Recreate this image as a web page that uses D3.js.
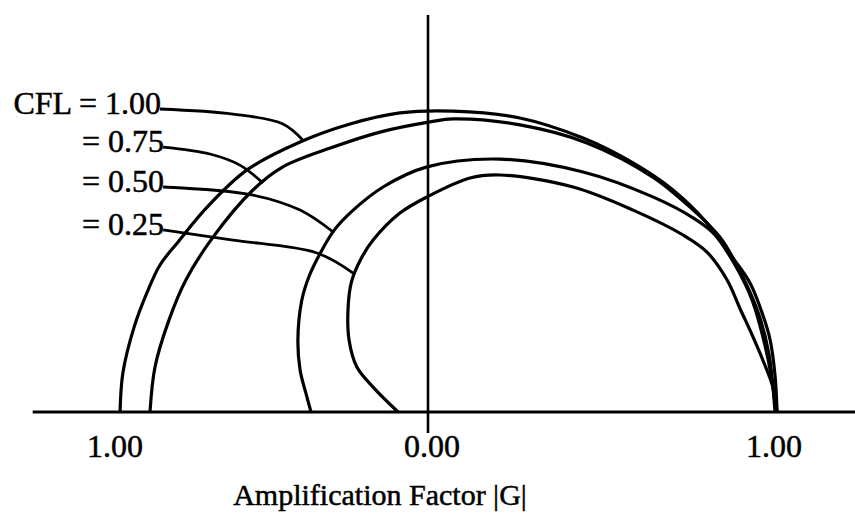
<!DOCTYPE html>
<html>
<head>
<meta charset="utf-8">
<script src="https://cdn.jsdelivr.net/npm/d3@7"></script>
<style>
  body { margin: 0; background: #fff; }
  svg text { font-family: "Liberation Serif", "Times New Roman", serif; fill: #000; stroke: #000; stroke-width: 0.5; }
</style>
</head>
<body>
<svg id="chart" width="855" height="514"></svg>
<script>
// |G| traced as (real, imag) pairs per CFL number
var cfls = ["1.00", "0.75", "0.50", "0.25"];
var labelText = ["CFL = 1.00", "= 0.75", "= 0.50", "= 0.25"];

var cfl100 = [[-0.987,0],[-0.978,0.130],[-0.942,0.283],[-0.901,0.397],[-0.859,0.490],[-0.801,0.567],
  [-0.708,0.683],[-0.580,0.807],[-0.410,0.900],[-0.250,0.960],[-0.090,0.997],[0.072,1.003],
  [0.265,0.980],[0.447,0.913],[0.591,0.830],[0.706,0.740],[0.804,0.630],[0.879,0.513],
  [0.928,0.430],[0.965,0.323],[0.986,0.240],[1.000,0.123],[1.006,0]];
var cfl075 = [[-0.891,0],[-0.875,0.150],[-0.830,0.307],[-0.776,0.440],[-0.689,0.583],[-0.561,0.740],
  [-0.465,0.817],[-0.304,0.883],[-0.154,0.933],[0.006,0.967],[0.072,0.977],[0.265,0.957],
  [0.458,0.897],[0.648,0.783],[0.755,0.683],[0.841,0.583],[0.902,0.463],[0.954,0.323],
  [0.983,0.190],[1.000,0]];
var cfl050 = [[-0.375,0],[-0.388,0.050],[-0.410,0.140],[-0.417,0.240],[-0.405,0.370],[-0.382,0.450],
  [-0.345,0.530],[-0.300,0.607],[-0.245,0.668],[-0.144,0.750],[-0.003,0.817],[0.207,0.843],
  [0.447,0.800],[0.648,0.717],[0.764,0.647],[0.825,0.593],[0.885,0.490],[0.934,0.373],
  [0.971,0.223],[0.991,0.107],[1.003,0]];
var cfl025 = [[-0.096,0],[-0.176,0.083],[-0.228,0.150],[-0.253,0.240],[-0.256,0.350],[-0.245,0.435],
  [-0.215,0.510],[-0.176,0.573],[-0.090,0.663],[-0.003,0.717],[0.121,0.780],
  [0.207,0.790],[0.418,0.750],[0.591,0.673],[0.735,0.590],[0.804,0.533],[0.862,0.440],
  [0.899,0.345],[0.934,0.257],[0.965,0.173],[0.994,0.083],[1.006,0]];

// leader lines from label to curve
var lead100 = [[-0.859,1.010],[-0.625,0.993],[-0.465,0.960],[-0.400,0.905]];
var lead075 = [[-0.849,0.883],[-0.699,0.860],[-0.603,0.823],[-0.529,0.763]];
var lead050 = [[-0.849,0.750],[-0.561,0.723],[-0.410,0.673],[-0.304,0.600]];
var lead025 = [[-0.849,0.607],[-0.625,0.573],[-0.356,0.530],[-0.240,0.463]];

var tickValues = [-1, 0, 1];
var tickLabels = ["1.00", "0.00", "1.00"];

var curves = [cfl100, cfl075, cfl050, cfl025];
var leaders = [lead100, lead075, lead050, lead025];

var svg = d3.select("#chart"),
	x = d3.scaleLinear().domain([-1, 0, 1]).range([116, 428, 775]),
	y = d3.scaleLinear().domain([0, 1]).range([412, 112]);

var line = d3.line()
	.x(function(d) { return x(d[0]); })
	.y(function(d) { return y(d[1]); })
	.curve(d3.curveCatmullRom.alpha(0.5));

// axes
svg.append("line")
	.attr("x1", x(-1.267)).attr("x2", x(1.24))
	.attr("y1", y(0)).attr("y2", y(0))
	.attr("stroke", "#000").attr("stroke-width", 3);
svg.append("line")
	.attr("x1", x(0)).attr("x2", x(0))
	.attr("y1", y(-0.07)).attr("y2", y(1.323))
	.attr("stroke", "#000").attr("stroke-width", 2.6);

svg.selectAll(".tick")
	.data(tickValues)
	.enter().append("text")
	.attr("class", "tick")
	.attr("x", function(d) { return x(d) + (d == 0 ? 4 : -1); })
	.attr("y", 457)
	.attr("text-anchor", "middle")
	.attr("font-size", 32)
	.text(function(d, i) { return tickLabels[i]; });

svg.append("text")
	.attr("x", 380).attr("y", 505)
	.attr("text-anchor", "middle")
	.attr("font-size", 30)
	.text("Amplification Factor |G|");

// curves
svg.selectAll(".curve")
	.data(curves)
	.enter().append("path")
	.attr("class", "curve")
	.attr("d", line)
	.attr("fill", "none")
	.attr("stroke", "#000")
	.attr("stroke-width", 3.2);

svg.selectAll(".leader")
	.data(leaders)
	.enter().append("path")
	.attr("class", "leader")
	.attr("d", line)
	.attr("fill", "none")
	.attr("stroke", "#000")
	.attr("stroke-width", 2.8);

svg.selectAll(".lab")
	.data(leaders)
	.enter().append("text")
	.attr("class", "lab")
	.attr("x", function(d) { return x(d[0][0]) + 1; })
	.attr("y", function(d) { return y(d[0][1]) + 5; })
	.attr("text-anchor", "end")
	.attr("font-size", 32)
	.text(function(d, i) { return labelText[i]; });
</script>
</body>
</html>
